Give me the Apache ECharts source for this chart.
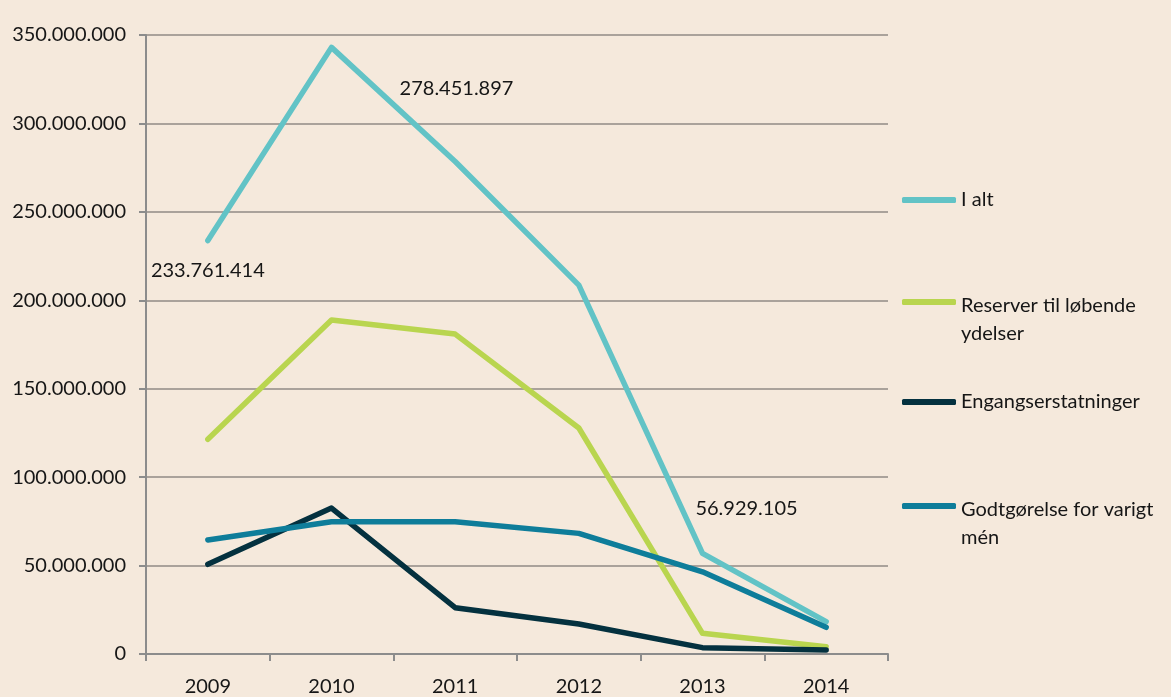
<!DOCTYPE html>
<html>
<head>
<meta charset="utf-8">
<script src="https://cdn.jsdelivr.net/npm/echarts@6/dist/echarts.min.js"></script>
<style>
  html, body { margin: 0; padding: 0; background: #f5e9dc; }
  #chart { width: 1171px; height: 697px; }
</style>
</head>
<body>
<div id="chart"></div>
<script>
// data
var years = ["2009", "2010", "2011", "2012", "2013", "2014"];
var iAlt = [233761414, 343000000, 278451897, 208600000, 56929105, 18300000];
var reserver = [121400000, 188900000, 180900000, 127800000, 11700000, 4100000];
var engangs = [50700000, 82500000, 26200000, 17000000, 3600000, 2300000];
var godtgoerelse = [64500000, 74800000, 74800000, 68200000, 46500000, 15100000];
var yTicks = [0, 50000000, 100000000, 150000000, 200000000, 250000000, 300000000, 350000000];

var names = ["I alt", "Reserver til løbende ydelser", "Engangserstatninger", "Godtgørelse for varigt mén"];
var colors = ["#62c3c6", "#b9d54f", "#04313f", "#0e7d9a"];

var fontFam = "Lato, 'Open Sans', sans-serif";
var txtColor = "#161616";

function dots(v) {
  return String(Math.round(v)).replace(/\B(?=(\d{3})+(?!\d))/g, ".");
}

// value labels of "I alt": which value, anchored at which point, label offset
var labelSpecs = [
  { idx: 0, anchor: 0, offset: [0, 30] },
  { idx: 2, anchor: 1, offset: [125, 41] },
  { idx: 4, anchor: 4, offset: [44, -45] }
];
var labelPoints = labelSpecs.map(function (s) {
  return {
    coord: [years[s.anchor], iAlt[s.anchor]],
    value: iAlt[s.idx],
    label: { offset: s.offset }
  };
});

function lineSeries(name, data, color) {
  return {
    name: name,
    type: "line",
    data: data,
    symbol: "none",
    lineStyle: { color: color, width: 5.5, cap: "round", join: "round" },
    itemStyle: { color: color },
    emphasis: { disabled: true },
    silent: true,
    z: 3
  };
}

var legendCenters = [200, 300, 402, 504];
var legendText = {
  "I alt": "I alt",
  "Reserver til løbende ydelser": "{m| }\n{a|Reserver til løbende}\n{a|ydelser}",
  "Engangserstatninger": "Engangserstatninger",
  "Godtgørelse for varigt mén": "{m| }\n{a|Godtgørelse for varigt}\n{a|mén}"
};
var legends = names.map(function (n, i) {
  var multi = legendText[n].indexOf("{m|") >= 0;
  var top = multi ? legendCenters[i] - 5 - 46 + 2 : legendCenters[i] - 5 - 14;
  return {
    data: [n],
    left: 897,
    top: top,
    orient: "vertical",
    icon: "roundRect",
    itemWidth: 54,
    itemHeight: 6,
    itemGap: 0,
    selectedMode: false,
    formatter: function (name) { return legendText[name]; },
    textStyle: {
      color: txtColor,
      fontSize: 20,
      fontFamily: fontFam,
      lineHeight: 28,
      rich: {
        a: { fontSize: 20, fontFamily: fontFam, color: txtColor, lineHeight: 28 },
        m: { fontSize: 4, lineHeight: 36 }
      }
    }
  };
});

var iAltSeries = lineSeries(names[0], iAlt, colors[0]);
iAltSeries.markPoint = {
  symbol: "circle",
  symbolSize: 0,
  silent: true,
  animation: false,
  itemStyle: { color: colors[0] },
  label: {
    show: true,
    position: "inside",
    color: txtColor,
    fontSize: 20,
    fontFamily: fontFam,
    formatter: function (p) { return dots(p.value); }
  },
  data: labelPoints
};

var myChart = echarts.init(document.getElementById("chart"));
myChart.setOption({
  backgroundColor: "#f5e9dc",
  animation: false,
  legend: legends,
  grid: { left: 146, right: 283, top: 35, bottom: 43 },
  xAxis: {
    type: "category",
    data: years,
    boundaryGap: true,
    axisLine: { lineStyle: { color: "#8c8c8c", width: 2 } },
    axisTick: { show: true, length: 7, lineStyle: { color: "#8c8c8c", width: 2 } },
    axisLabel: { color: txtColor, fontSize: 20, fontFamily: fontFam, margin: 23 }
  },
  yAxis: {
    type: "value",
    min: yTicks[0],
    max: yTicks[yTicks.length - 1],
    interval: 50000000,
    axisLine: { show: true, lineStyle: { color: "#8c8c8c", width: 2 } },
    axisTick: { show: true, length: 7, lineStyle: { color: "#8c8c8c", width: 2 } },
    splitLine: { show: true, lineStyle: { color: "#aaa29b", width: 2 } },
    axisLabel: {
      color: txtColor, fontSize: 20, fontFamily: fontFam, margin: 20,
      formatter: function (v) { return dots(v); }
    }
  },
  series: [
    iAltSeries,
    lineSeries(names[1], reserver, colors[1]),
    lineSeries(names[2], engangs, colors[2]),
    lineSeries(names[3], godtgoerelse, colors[3])
  ]
});
window.addEventListener("resize", function () {
  myChart.resize();
});
</script>
</body>
</html>
